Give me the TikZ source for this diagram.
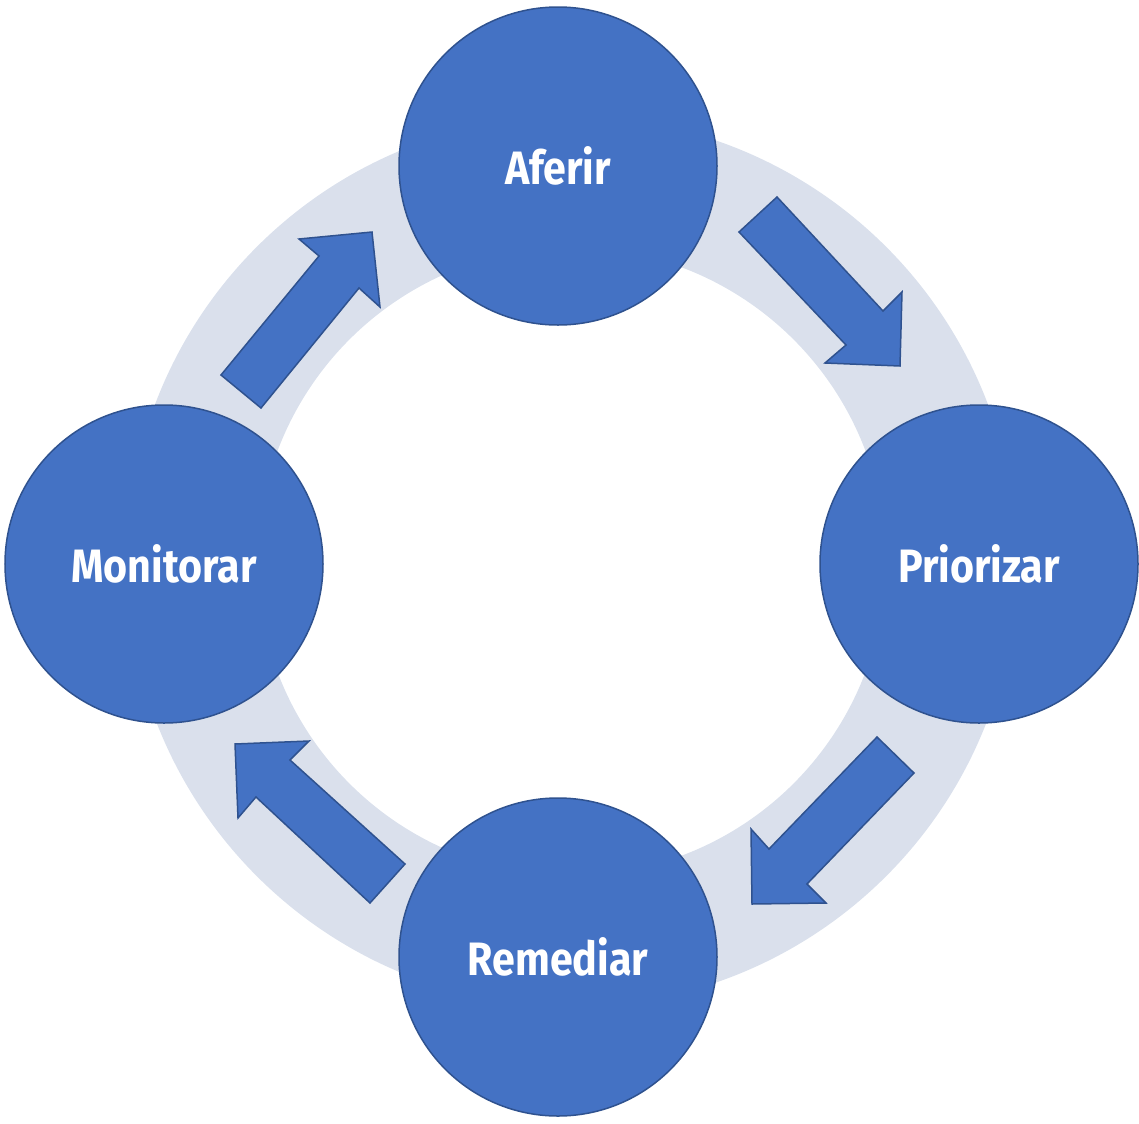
\documentclass[tikz,border=0pt]{standalone}
\usepackage{fontspec}
\setmainfont{Fira Sans}[FakeStretch=0.88]
\definecolor{stagefill}{HTML}{4472C4}
\definecolor{stageline}{HTML}{2F528F}
\definecolor{ringc}{HTML}{DAE0EC}
\begin{document}
\begin{tikzpicture}[x=1bp,y=-1bp,
  stage/.style={circle, minimum size=318bp, inner sep=0pt, fill=stagefill, draw=stageline,
    line width=1.5bp, text=white, font=\bfseries\fontsize{47}{52}\selectfont},
  blockarrow/.style={fill=stagefill, draw=stageline, line width=1.5bp, line join=miter}]
\useasboundingbox (0,0) rectangle (1139,1124);
% ring
\fill[ringc, even odd rule] (571.5,561.5) circle[radius=445bp] (571.5,561.5) circle[radius=314bp];
% block arrows
\filldraw[blockarrow] (739,232) -- (777,197) -- (883,311) -- (902,292) -- (900,366) -- (825,363) -- (846,345) -- cycle;
\filldraw[blockarrow] (877,737) -- (914,773) -- (807,884) -- (826,903) -- (752,904) -- (751,829) -- (769,849) -- cycle;
\filldraw[blockarrow] (405,864) -- (370,903) -- (256,797) -- (238,818) -- (235,744) -- (309,741) -- (290,760) -- cycle;
\filldraw[blockarrow] (221,375) -- (261,408) -- (359,288) -- (380,307) -- (372,232) -- (299,239) -- (319,256) -- cycle;
% stages
\node[stage] (aferir) at (558,166) {Aferir};
\node[stage] (priorizar) at (979,564) {Priorizar};
\node[stage] (remediar) at (558,957) {Remediar};
\node[stage] (monitorar) at (164,564) {Monitorar};
\end{tikzpicture}
\end{document}
